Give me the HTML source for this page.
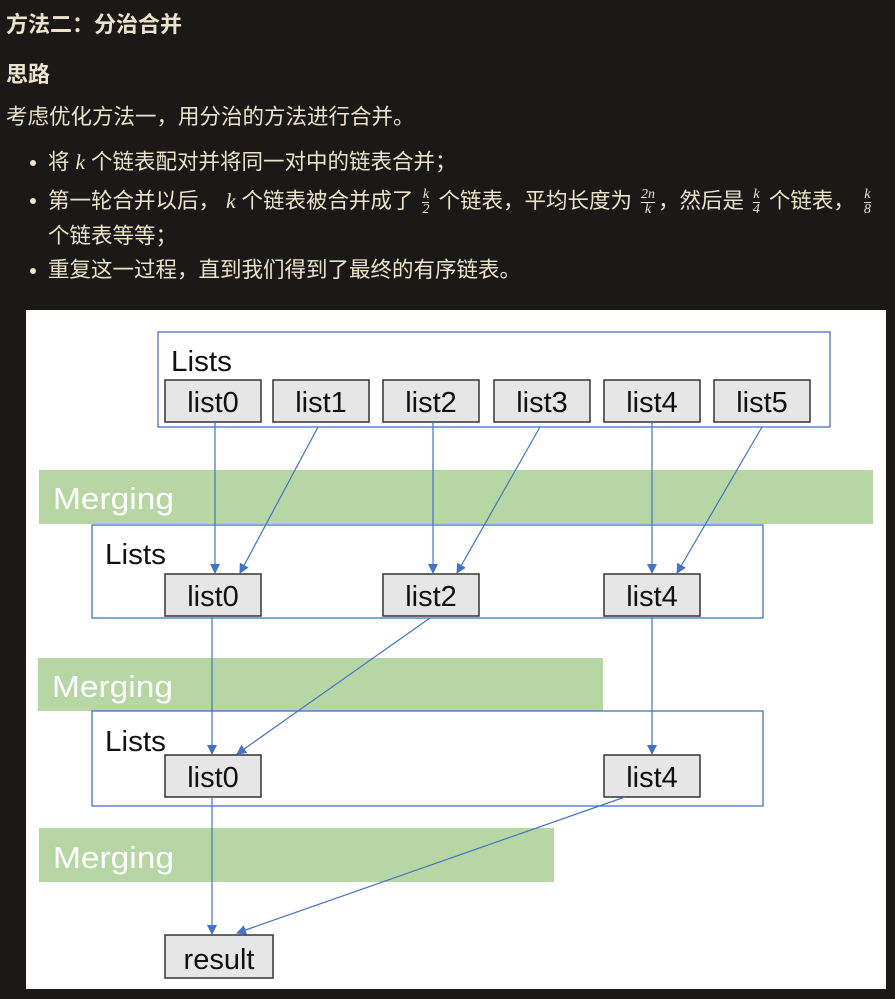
<!DOCTYPE html>
<html><head><meta charset="utf-8"><style>
html,body{margin:0;padding:0;width:895px;height:999px;background:#1a1918;overflow:hidden}
.t{position:absolute;color:#ece3cc;font-family:"Liberation Sans","Noto Sans CJK SC",sans-serif;font-size:21.5px;white-space:nowrap;line-height:1}
.b{font-weight:bold;font-size:22px}
.dot{position:absolute;width:6px;height:6px;border-radius:50%;background:#ece3cc}
i{font-family:"Liberation Serif",serif}
.fr{display:inline-block;vertical-align:middle;text-align:center;font-size:14px;line-height:1;font-family:"Liberation Serif",serif;font-style:italic;margin:0 3px}
.fr span{display:block;border-bottom:1px solid #ece3cc}
</style></head><body>
<div class="t b" style="left:6px;top:14px">方法二：分治合并</div>
<div class="t b" style="left:6px;top:64px">思路</div>
<div class="t" style="left:6px;top:107px">考虑优化方法一，用分治的方法进行合并。</div>
<div class="dot" style="left:30px;top:160px"></div>
<div class="t" style="left:48px;top:152px">将 <i>k</i> 个链表配对并将同一对中的链表合并；</div>
<div class="dot" style="left:30px;top:198px"></div>
<div class="t" style="left:48px;top:188px">第一轮合并以后， <i>k</i> 个链表被合并成了 <span class="fr"><span>k</span>2</span> 个链表，平均长度为 <span class="fr"><span>2n</span>k</span>，然后是 <span class="fr"><span>k</span>4</span> 个链表， <span class="fr"><span>k</span>8</span></div>
<div class="t" style="left:48px;top:226px">个链表等等；</div>
<div class="dot" style="left:30px;top:268px"></div>
<div class="t" style="left:48px;top:260px">重复这一过程，直到我们得到了最终的有序链表。</div>

<svg style="position:absolute;left:0;top:0" width="895" height="999">
<defs><marker id="a" markerWidth="10" markerHeight="10" refX="9" refY="5" orient="auto" markerUnits="userSpaceOnUse"><path d="M0,0 L10,5 L0,10 z" fill="#4472c4"/></marker></defs>
<rect x="26" y="310" width="860" height="679" fill="#fff"/>
<g font-family="Liberation Sans,sans-serif">
<rect x="39" y="470" width="834" height="54" fill="#b6d7a3"/>
<rect x="38" y="658" width="565" height="53" fill="#b6d7a3"/>
<rect x="39" y="828" width="515" height="54" fill="#b6d7a3"/>
<text x="53" y="509" font-size="31" fill="#fff" textLength="121" lengthAdjust="spacingAndGlyphs">Merging</text>
<text x="52" y="697" font-size="31" fill="#fff" textLength="121" lengthAdjust="spacingAndGlyphs">Merging</text>
<text x="53" y="868" font-size="31" fill="#fff" textLength="121" lengthAdjust="spacingAndGlyphs">Merging</text>
<g fill="none" stroke="#4472c4" stroke-width="1.3">
<rect x="158" y="332" width="672" height="95"/>
<rect x="92" y="525" width="671" height="93"/>
<rect x="92" y="711" width="671" height="95"/>
</g>
<g font-size="29" fill="#111">
<text x="171" y="371" textLength="61" lengthAdjust="spacingAndGlyphs">Lists</text>
<text x="105" y="564" textLength="61" lengthAdjust="spacingAndGlyphs">Lists</text>
<text x="105" y="751" textLength="61" lengthAdjust="spacingAndGlyphs">Lists</text>
</g>
<g fill="#e6e6e6" stroke="#333" stroke-width="1.5">
<rect x="165" y="380" width="96" height="42"/><rect x="273" y="380" width="96" height="42"/><rect x="383" y="380" width="96" height="42"/><rect x="494" y="380" width="96" height="42"/><rect x="604" y="380" width="96" height="42"/><rect x="714" y="380" width="96" height="42"/>
<rect x="165" y="574" width="96" height="42"/><rect x="383" y="574" width="96" height="42"/><rect x="604" y="574" width="96" height="42"/>
<rect x="165" y="755" width="96" height="42"/><rect x="604" y="755" width="96" height="42"/>
<rect x="165" y="935" width="108" height="43"/>
</g>
<g font-size="29" fill="#111" text-anchor="middle">
<text x="213" y="412">list0</text><text x="321" y="412">list1</text><text x="431" y="412">list2</text><text x="542" y="412">list3</text><text x="652" y="412">list4</text><text x="762" y="412">list5</text>
<text x="213" y="606">list0</text><text x="431" y="606">list2</text><text x="652" y="606">list4</text>
<text x="213" y="787">list0</text><text x="652" y="787">list4</text>
<text x="219" y="969">result</text>
</g>
<g stroke="#4472c4" stroke-width="1.2" marker-end="url(#a)">
<line x1="215" y1="422" x2="215" y2="573"/>
<line x1="318" y1="427" x2="240" y2="573"/>
<line x1="433" y1="422" x2="433" y2="573"/>
<line x1="540" y1="427" x2="457" y2="573"/>
<line x1="652" y1="422" x2="652" y2="573"/>
<line x1="762" y1="427" x2="677" y2="573"/>
<line x1="212" y1="616" x2="212" y2="754"/>
<line x1="430" y1="618" x2="237" y2="754"/>
<line x1="652" y1="616" x2="652" y2="754"/>
<line x1="212" y1="797" x2="212" y2="934"/>
<line x1="625" y1="797" x2="237" y2="933"/>
</g>
</g>
</svg>
</body></html>
